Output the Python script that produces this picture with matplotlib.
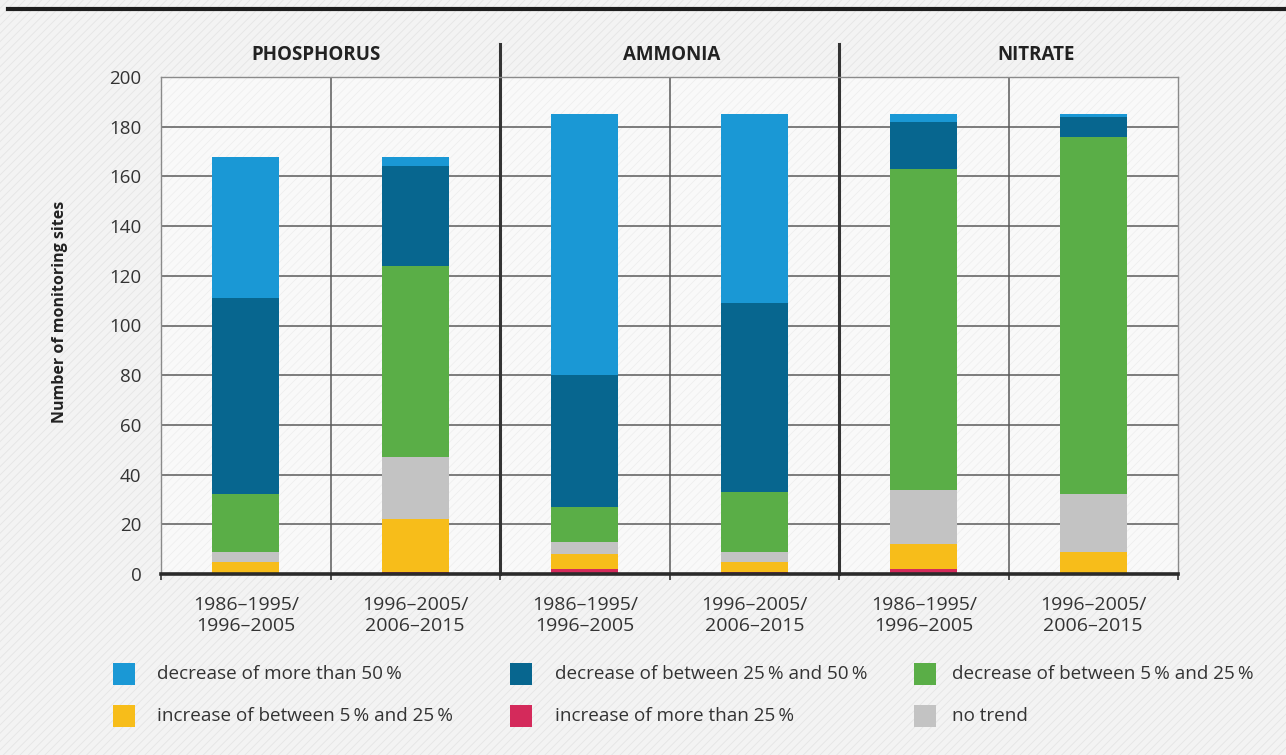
import matplotlib
matplotlib.use("Agg")
import matplotlib.pyplot as plt
from matplotlib.patches import Rectangle
from matplotlib.lines import Line2D
import numpy as np

# ---------------- data ----------------
groups = ["PHOSPHORUS", "AMMONIA", "NITRATE"]
periods = ["1986\u20131995/\n1996\u20132005", "1996\u20132005/\n2006\u20132015"]

# stacked from bottom to top, one value per bar (Phos1, Phos2, Amm1, Amm2, Nit1, Nit2)
increase_more_25 = [0, 1, 2, 1, 2, 0]
increase_5_25 = [5, 21, 6, 4, 10, 9]
no_trend = [4, 25, 5, 4, 22, 23]
decrease_5_25 = [23, 77, 14, 24, 129, 144]
decrease_25_50 = [79, 40, 53, 76, 19, 8]
decrease_more_50 = [57, 4, 105, 76, 3, 1]

series_labels = [
    "increase of more than 25\u2009%",
    "increase of between 5\u2009% and 25\u2009%",
    "no trend",
    "decrease of between 5\u2009% and 25\u2009%",
    "decrease of between 25\u2009% and 50\u2009%",
    "decrease of more than 50\u2009%",
]
series_values = [increase_more_25, increase_5_25, no_trend,
                 decrease_5_25, decrease_25_50, decrease_more_50]
series_colors = ["#d42a5b", "#f7bd1a", "#c3c3c3", "#5aae47", "#07668f", "#1a98d5"]

y_ticks = [0, 20, 40, 60, 80, 100, 120, 140, 160, 180, 200]

# ---------------- figure ----------------
plt.rcParams['font.family'] = ['Open Sans', 'DejaVu Sans']
plt.rcParams['hatch.linewidth'] = 0.6
W, H = 1286, 755
fig = plt.figure(figsize=(W / 100, H / 100), dpi=100)
fig.patch.set_facecolor("#f3f3f3")

bg = Rectangle((0, 0), 1, 1, transform=fig.transFigure, facecolor="#f3f3f3",
               edgecolor="#e5e5e5", hatch="////", linewidth=0, zorder=-10)
fig.add_artist(bg)
fig.add_artist(Line2D([8 / W, 1], [1 - 9 / H, 1 - 9 / H], color="#1e1e1e", lw=3))

left, right, top, bottom = 161, 1178, 77, 574
ax = fig.add_axes([left / W, 1 - bottom / H, (right - left) / W, (bottom - top) / H])
ax.patch.set_alpha(0)
ax.add_patch(Rectangle((0, 0), 1, 1, transform=ax.transAxes, facecolor="#f9f9f9",
                       edgecolor="#eeeeee", hatch="////", linewidth=0, zorder=-5))

n = len(groups) * len(periods)
x = np.arange(n)
bottoms = np.zeros(n)
for vals, col, lab in zip(series_values, series_colors, series_labels):
    vals = np.array(vals, dtype=float)
    ax.bar(x, vals, bottom=bottoms, width=0.395, color=col, label=lab, zorder=3, linewidth=0)
    bottoms += vals

ax.set_xlim(-0.5, n - 0.5)
ax.set_ylim(0, 200)
ax.set_yticks(y_ticks)
ax.set_yticklabels([str(v) for v in y_ticks], fontsize=13.5, color="#333333")
ax.tick_params(axis="y", length=0, pad=14)

ax.set_xticks(x)
ax.set_xticklabels(periods * len(groups), fontsize=14, color="#333333", linespacing=1.2)
ax.tick_params(axis="x", which="major", length=0, pad=16)
ax.set_xticks(np.arange(n + 1) - 0.5, minor=True)
ax.tick_params(axis="x", which="minor", length=4, width=1.2, color="#333333", direction="out")

# horizontal grid
for v in y_ticks[1:-1]:
    ax.axhline(v, color="#5a5a5a", lw=1.1, zorder=1)
# thin vertical separators between periods
for xe in [0.5, 2.5, 4.5]:
    ax.axvline(xe, color="#5a5a5a", lw=1.1, zorder=1)
# thick vertical separators between groups, extending above the plot
ext = 200 + (top - 44) / ((bottom - top) / 200)
for xe in [1.5, 3.5]:
    ax.plot([xe, xe], [0, ext], color="#333333", lw=2.2, zorder=2, clip_on=False)

for s in ["top", "left", "right"]:
    ax.spines[s].set_color("#8a8a8a")
    ax.spines[s].set_linewidth(1.0)
ax.spines["bottom"].set_color("#2a2a2a")
ax.spines["bottom"].set_linewidth(2.6)
ax.spines["bottom"].set_zorder(5)

ax.set_ylabel("Number of monitoring sites", fontsize=11.5, fontweight="bold",
              color="#222222")
ax.yaxis.set_label_coords(-(left - 68) / (right - left), (bottom - 312) / (bottom - top))

# group titles
title_y = 200 + (top - 55) / ((bottom - top) / 200)
for gx, g in zip([0.414, 2.515, 4.66], groups):
    ax.text(gx, title_y, g, ha="center", va="center", fontsize=13.5, fontweight="bold",
            color="#222222", clip_on=False)

# legend (manual layout in 3 columns x 2 rows)
order = [5, 4, 3, 1, 0, 2]
col_sw = [113, 510, 914]
col_tx = [157, 555, 952]
row_y = [674, 716]
for k, idx in enumerate(order):
    r, c = divmod(k, 3)
    sw = 22
    fig.add_artist(Rectangle(((col_sw[c]) / W, 1 - (row_y[r] + sw / 2) / H), sw / W, sw / H,
                             transform=fig.transFigure, facecolor=series_colors[idx],
                             edgecolor="none"))
    fig.text(col_tx[c] / W, 1 - row_y[r] / H, series_labels[idx], ha="left", va="center",
             fontsize=13.6, color="#333333")

fig.savefig("out.png", dpi=100, facecolor=fig.get_facecolor())
